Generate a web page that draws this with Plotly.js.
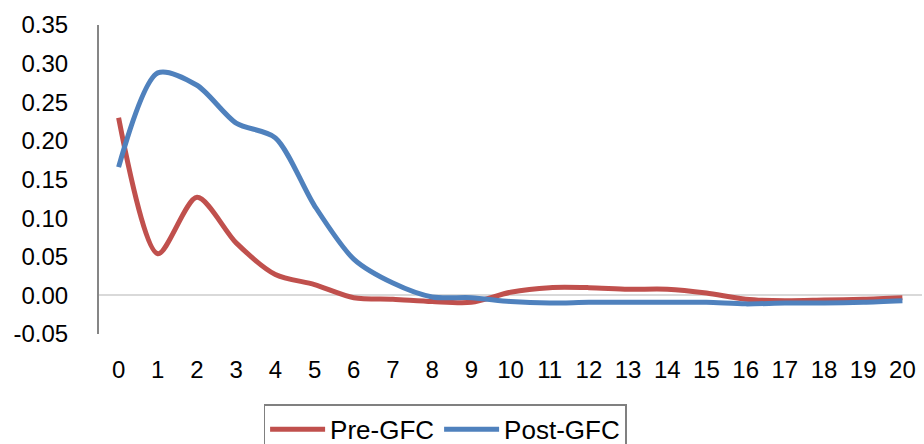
<!DOCTYPE html>
<html>
<head>
<meta charset="utf-8">
<script src="https://cdn.plot.ly/plotly-3.0.1.min.js"></script>
<style>html,body{margin:0;padding:0;background:#fff;}#chart{width:924px;height:444px;}</style>
</head>
<body>
<div id="chart"></div>
<script>
var categories = ["0","1","2","3","4","5","6","7","8","9","10","11","12","13","14","15","16","17","18","19","20"];
var preGFC = [0.230, 0.054, 0.127, 0.068, 0.027, 0.014, -0.003, -0.005, -0.008, -0.009, 0.004, 0.010, 0.010, 0.008, 0.008, 0.003, -0.005, -0.007, -0.006, -0.005, -0.003];
var postGFC = [0.166, 0.288, 0.272, 0.223, 0.204, 0.116, 0.047, 0.016, -0.002, -0.003, -0.008, -0.010, -0.009, -0.009, -0.009, -0.009, -0.011, -0.010, -0.010, -0.009, -0.007];
var yTicks = [-0.05, 0, 0.05, 0.10, 0.15, 0.20, 0.25, 0.30, 0.35];
var yTickText = ["-0.05","0.00","0.05","0.10","0.15","0.20","0.25","0.30","0.35"];

var font = "Liberation Sans, Arial, sans-serif";
var traces = [
  {x: categories, y: preGFC, name: "Pre-GFC", type: "scatter", mode: "lines",
   line: {color: "#C0504D", width: 5, shape: "spline", smoothing: 0.8}},
  {x: categories, y: postGFC, name: "Post-GFC", type: "scatter", mode: "lines",
   line: {color: "#4F81BD", width: 5, shape: "spline", smoothing: 0.8}}
];
var layout = {
  width: 924, height: 444,
  margin: {l: 99, r: 2, t: 25, b: 110, autoexpand: false},
  paper_bgcolor: "#fff", plot_bgcolor: "#fff",
  font: {family: font, size: 24, color: "#000"},
  showlegend: true,
  legend: {orientation: "h", x: 0.2, xanchor: "left", y: -0.228, yanchor: "top",
           bordercolor: "#808080", borderwidth: 1.5, font: {family: font, size: 26, color: "#000"},
           traceorder: "normal", itemwidth: 55, tracegroupgap: 0},
  xaxis: {type: "category", range: [-0.5, 20.5], showgrid: false, zeroline: false, showline: false,
          automargin: false,
          ticks: "", tickfont: {family: font, size: 24, color: "#000"}, ticklabelstandoff: 19, fixedrange: true},
  yaxis: {range: [-0.05, 0.35], tickvals: yTicks, ticktext: yTickText, showgrid: false,
          automargin: false,
          zeroline: true, zerolinecolor: "#D9D9D9", zerolinewidth: 2,
          showline: true, linecolor: "#868686", linewidth: 2, ticks: "",
          tickfont: {family: font, size: 24, color: "#000"}, ticklabelstandoff: 24, fixedrange: true}
};
Plotly.newPlot("chart", traces, layout, {displayModeBar: false, staticPlot: true});
</script>
</body>
</html>
